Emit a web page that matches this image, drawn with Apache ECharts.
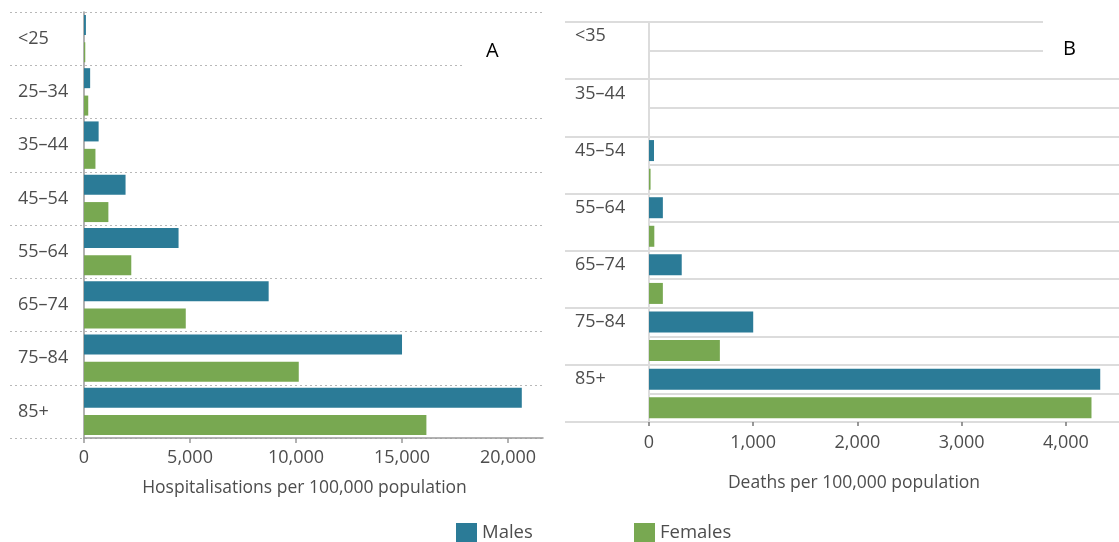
<!DOCTYPE html>
<html>
<head>
<meta charset="utf-8">
<script src="https://cdn.jsdelivr.net/npm/echarts@6/dist/echarts.min.js"></script>
<style>
  html, body { margin: 0; padding: 0; background: #fff; }
  #chart { width: 1119px; height: 542px; }
</style>
</head>
<body>
<div id="chart"></div>
<script>
// ---- Data ----
const categoriesA = ['<25', '25–34', '35–44', '45–54', '55–64', '65–74', '75–84', '85+'];
const malesA   = [90, 290, 690, 1960, 4460, 8710, 15000, 20650];
const femalesA = [60, 200, 540, 1150, 2230, 4800, 10130, 16150];
const ticksA   = [0, 5000, 10000, 15000, 20000];

const categoriesB = ['<35', '35–44', '45–54', '55–64', '65–74', '75–84', '85+'];
const malesB   = [0, 0, 48, 133, 314, 1000, 4330];
const femalesB = [0, 0, 15, 51, 133, 680, 4246];
const ticksB   = [0, 1000, 2000, 3000, 4000];

const titleA = 'Hospitalisations per 100,000 population';
const titleB = 'Deaths per 100,000 population';

// ---- Styles ----
const FONT = 'Open Sans';
const MALE = '#2b7b97';
const FEMALE = '#78a851';
const TXT = '#4d4d4d';

const fmt = v => Number(v).toLocaleString('en-US');
const halfRowsB = categoriesB.flatMap(c => [c, '']);

const chart = echarts.init(document.getElementById('chart'), null, { renderer: 'canvas' });

const option = {
  animation: false,
  backgroundColor: '#fff',
  textStyle: { fontFamily: FONT },
  grid: [
    { left: 10,  top: 12, width: 533, height: 426 },  // 0 A background separators
    { left: 84,  top: 12, width: 459, height: 426 },  // 1 A plot
    { left: 565, top: 22, width: 554, height: 400 },  // 2 B background separators
    { left: 649, top: 22, width: 470, height: 400 },  // 3 B half-row lines + labels
    { left: 649, top: 22, width: 470, height: 400 }   // 4 B plot
  ],
  xAxis: [
    { gridIndex: 0, type: 'value', show: false, min: 0, max: 1 },
    {
      gridIndex: 1, type: 'value', min: 0, max: 21650, interval: 5000,
      axisLine: { show: true, lineStyle: { color: '#999', width: 1.5 } },
      axisTick: { show: true, length: 5, customValues: ticksA, lineStyle: { color: '#999', width: 1.5 } },
      axisLabel: { customValues: ticksA, formatter: fmt, fontSize: 18, color: TXT, margin: 11, fontFamily: FONT },
      splitLine: { show: false },
      name: titleA, nameLocation: 'middle', nameGap: 41,
      nameTextStyle: { fontSize: 17.5, color: TXT, fontFamily: FONT, padding: [0, 18, 0, 0] }
    },
    { gridIndex: 2, type: 'value', show: false, min: 0, max: 1 },
    { gridIndex: 3, type: 'value', show: false, min: 0, max: 1 },
    {
      gridIndex: 4, type: 'value', min: 0, max: 4510, interval: 1000,
      axisLine: { show: false },
      axisTick: { show: true, length: 4, customValues: ticksB, lineStyle: { color: '#777', width: 1.5 } },
      axisLabel: { customValues: ticksB, formatter: fmt, fontSize: 18, color: TXT, margin: 12, fontFamily: FONT },
      splitLine: { show: false },
      name: titleB, nameLocation: 'middle', nameGap: 52,
      nameTextStyle: { fontSize: 17.5, color: TXT, fontFamily: FONT, padding: [0, 60, 0, 0] }
    }
  ],
  yAxis: [
    {
      gridIndex: 0, type: 'category', inverse: true, data: categoriesA,
      axisLine: { show: false }, axisTick: { show: false }, axisLabel: { show: false },
      splitLine: { show: true, lineStyle: { color: '#b8b8b8', type: [2, 3], width: 1 } }
    },
    {
      gridIndex: 1, type: 'category', inverse: true, data: categoriesA,
      axisLine: { show: true, lineStyle: { color: '#999', width: 1.5 } },
      axisTick: { show: false },
      axisLabel: { align: 'left', margin: 66, fontSize: 18, color: TXT, fontFamily: FONT, padding: [4, 0, 0, 0] },
      splitLine: { show: false }
    },
    {
      gridIndex: 2, type: 'category', inverse: true, data: categoriesB,
      axisLine: { show: false }, axisTick: { show: false }, axisLabel: { show: false },
      splitLine: { show: true, lineStyle: { color: '#dcdcdc', width: 2 } }
    },
    {
      gridIndex: 3, type: 'category', inverse: true, data: halfRowsB,
      axisLine: { show: false }, axisTick: { show: false },
      axisLabel: { interval: 0, align: 'left', margin: 74, fontSize: 18, color: TXT, fontFamily: FONT, padding: [2, 0, 0, 0] },
      splitLine: { show: true, lineStyle: { color: '#dcdcdc', width: 2 } }
    },
    {
      gridIndex: 4, type: 'category', inverse: true, data: categoriesB,
      axisLine: { show: true, lineStyle: { color: '#dcdcdc', width: 2 } },
      axisTick: { show: false }, axisLabel: { show: false },
      splitLine: { show: false }
    }
  ],
  legend: [
    {
      data: ['Males'], left: 451, top: 518, itemWidth: 21, itemHeight: 20, icon: 'rect',
      textStyle: { fontSize: 18.5, color: TXT, fontFamily: FONT }, selectedMode: false
    },
    {
      data: ['Females'], left: 629, top: 518, itemWidth: 21, itemHeight: 20, icon: 'rect',
      textStyle: { fontSize: 18.5, color: TXT, fontFamily: FONT }, selectedMode: false
    }
  ],
  series: [
    { name: 'Males', type: 'bar', xAxisIndex: 1, yAxisIndex: 1, data: malesA,
      barWidth: 20, barGap: '37%', itemStyle: { color: MALE }, z: 3 },
    { name: 'Females', type: 'bar', xAxisIndex: 1, yAxisIndex: 1, data: femalesA,
      barWidth: 20, barGap: '37%', itemStyle: { color: FEMALE }, z: 3 },
    { name: 'Males', type: 'bar', xAxisIndex: 4, yAxisIndex: 4, data: malesB,
      barWidth: 21, barGap: '36%', itemStyle: { color: MALE }, z: 3 },
    { name: 'Females', type: 'bar', xAxisIndex: 4, yAxisIndex: 4, data: femalesB,
      barWidth: 21, barGap: '36%', itemStyle: { color: FEMALE }, z: 3 }
  ],
  graphic: [
    { type: 'rect', z: 50, shape: { x: 465, y: 59, width: 82, height: 12 }, style: { fill: '#fff' } },
    { type: 'rect', z: 50, shape: { x: 1043, y: 15, width: 76, height: 42 }, style: { fill: '#fff' } },
    { type: 'text', z: 60, left: 486, top: 41, style: { text: 'A', fontSize: 20, fill: '#000', fontFamily: FONT } },
    { type: 'text', z: 60, left: 1063, top: 39, style: { text: 'B', fontSize: 20, fill: '#000', fontFamily: FONT } }
  ]
};

chart.setOption(option);
</script>
</body>
</html>
